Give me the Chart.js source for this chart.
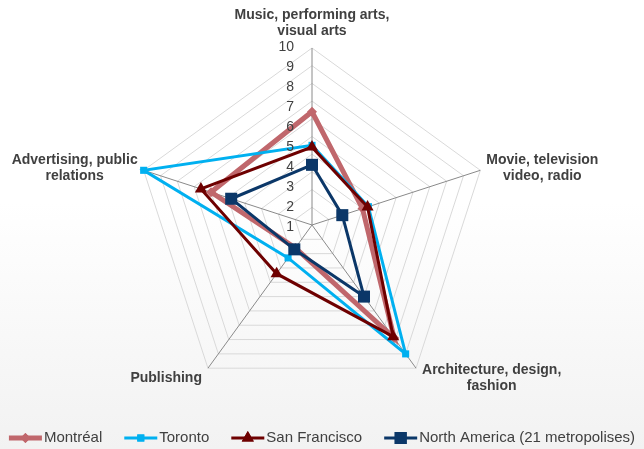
<!DOCTYPE html>
<html>
<head>
<meta charset="utf-8">
<script src="https://cdn.jsdelivr.net/npm/chart.js@4/dist/chart.umd.min.js"></script>
<style>
    html, body { margin: 0; padding: 0; }
    body { width: 644px; height: 449px; background: linear-gradient(#ffffff 0%, #ffffff 45%, #f2f2f2 100%); }
    #wrap { position: relative; width: 644px; height: 449px; }
</style>
</head>
<body>
<div id="wrap"><canvas id="radarChart"></canvas></div>
<script>
// Axis labels (clockwise from top)
const categories = [
    ['Music, performing arts,', 'visual arts'],
    ['Movie, television', 'video, radio'],
    ['Architecture, design,', 'fashion'],
    ['Publishing'],
    ['Advertising, public', 'relations']
];

// Series values
const montreal = [6.4, 3.0, 7.9, 1.6, 6.0];
const toronto = [4.5, 3.35, 9.0, 2.3, 10];
const sanFrancisco = [4.4, 3.3, 7.8, 3.4, 6.6];
const northAmerica = [3.4, 1.8, 5.0, 1.7, 4.8];

const tickValues = [1, 2, 3, 4, 5, 6, 7, 8, 9, 10];

const seriesNames = ['Montréal', 'Toronto', 'San Francisco', 'North America (21 metropolises)'];

const styles = [
    { color: '#c0676c', width: 5, point: 'rectRot', radius: 5 },
    { color: '#00b0f0', width: 3, point: 'rect', radius: 5 },
    { color: '#6e0000', width: 3, point: 'triangle', radius: 7 },
    { color: '#0b3768', width: 3, point: 'rect', radius: 8.5 }
];
const seriesData = [montreal, toronto, sanFrancisco, northAmerica];

const FONT = '"Liberation Sans", Arial, sans-serif';

// Axis titles and tick numbers, placed from the radial scale
const labelPlugin = {
    id: 'labelPlugin',
    afterDraw(chart) {
        const scale = chart.scales.r;
        const ctx = chart.ctx;
        ctx.save();
        ctx.font = 'bold 14px ' + FONT;
        ctx.fillStyle = '#404040';
        ctx.textBaseline = 'middle';
        ctx.textAlign = 'center';
        const lh = 16;
        categories.forEach((lines, i) => {
            const p = scale.getPointPosition(i, scale.drawingArea);
            const dx = p.x - scale.xCenter;
            const maxW = Math.max(...lines.map(l => ctx.measureText(l).width));
            let cx, top;
            if (Math.abs(dx) < 2) {
                cx = p.x;
                top = p.y - 17 - (lines.length - 1) * lh;
            } else {
                cx = dx > 0 ? p.x + 6 + maxW / 2 : p.x - 6 - maxW / 2;
                const mid = p.y < scale.yCenter ? p.y - 2 : p.y + 10;
                top = mid - (lines.length - 1) * lh / 2;
            }
            lines.forEach((l, k) => ctx.fillText(l, cx, top + k * lh));
        });
        // tick labels on the left of the vertical axis
        ctx.font = '14px ' + FONT;
        ctx.textAlign = 'right';
        tickValues.forEach(v => {
            const d = scale.getDistanceFromCenterForValue(v);
            ctx.fillText(String(v), scale.xCenter - 18, scale.yCenter + 22 - d * 1.13);
        });
        ctx.restore();
    }
};

// Legend: line + marker sample, then the series name, in one centred row
const legendPlugin = {
    id: 'legendPlugin',
    afterDraw(chart) {
        const ctx = chart.ctx;
        const sampleW = 33, textGap = 2, itemGap = 22;
        const y = chart.chartArea.bottom + 36;
        ctx.save();
        ctx.font = '15px ' + FONT;
        const widths = chart.data.datasets.map(ds => sampleW + textGap + ctx.measureText(ds.label).width);
        const total = widths.reduce((a, b) => a + b, 0) + itemGap * (widths.length - 1);
        let x = (chart.width - total) / 2;
        chart.data.datasets.forEach((ds, i) => {
            ctx.strokeStyle = ds.borderColor;
            ctx.lineWidth = ds.borderWidth;
            ctx.beginPath();
            ctx.moveTo(x, y);
            ctx.lineTo(x + sampleW, y);
            ctx.stroke();
            ctx.fillStyle = ds.pointBackgroundColor;
            Chart.helpers.drawPoint(ctx, { pointStyle: ds.pointStyle, radius: ds.pointRadius, rotation: 0, borderWidth: 0 }, x + sampleW / 2, y);
            ctx.fill();
            ctx.fillStyle = '#404040';
            ctx.textBaseline = 'middle';
            ctx.textAlign = 'left';
            ctx.fillText(ds.label, x + sampleW + textGap, y);
            x += widths[i] + itemGap;
        });
        ctx.restore();
    }
};

function initializeChart() {
    new Chart(document.getElementById('radarChart'), {
        type: 'radar',
        data: {
            labels: categories.map(c => c.join(' ')),
            datasets: seriesData.map((d, i) => ({
                label: seriesNames[i],
                data: d,
                borderColor: styles[i].color,
                backgroundColor: styles[i].color,
                pointBackgroundColor: styles[i].color,
                pointBorderColor: styles[i].color,
                borderWidth: styles[i].width,
                pointStyle: styles[i].point,
                pointRadius: styles[i].radius,
                pointBorderWidth: 0,
                fill: false,
                tension: 0,
                order: 4 - i
            }))
        },
        options: {
            responsive: true,
            maintainAspectRatio: false,
            animation: false,
            layout: { padding: { top: 48, left: 0, right: 20, bottom: 47 } },
            plugins: {
                tooltip: { enabled: false },
                legend: { display: false }
            },
            scales: {
                r: {
                    min: 0,
                    max: 10,
                    ticks: { display: false, stepSize: 1 },
                    pointLabels: { display: false },
                    grid: { color: '#d9d9d9', lineWidth: 1 },
                    angleLines: { color: '#8a8a8a', lineWidth: 1 }
                }
            }
        },
        plugins: [labelPlugin, legendPlugin]
    });
}

initializeChart();
</script>
</body>
</html>
